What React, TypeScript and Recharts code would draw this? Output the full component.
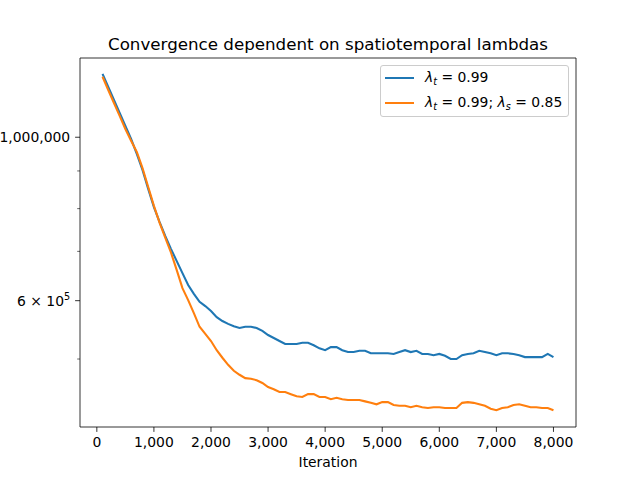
import { LineChart, Line, XAxis, YAxis, ReferenceLine } from 'recharts';

// values (loss per iteration, log scale)
const iterations = [
  100, 200, 300, 400, 500, 600, 700, 800, 900, 1000,
  1100, 1200, 1300, 1400, 1500, 1600, 1700, 1800, 1900, 2000,
  2100, 2200, 2300, 2400, 2500, 2600, 2700, 2800, 2900, 3000,
  3100, 3200, 3300, 3400, 3500, 3600, 3700, 3800, 3900, 4000,
  4100, 4200, 4300, 4400, 4500, 4600, 4700, 4800, 4900, 5000,
  5100, 5200, 5300, 5400, 5500, 5600, 5700, 5800, 5900, 6000,
  6100, 6200, 6300, 6400, 6500, 6600, 6700, 6800, 6900, 7000,
  7100, 7200, 7300, 7400, 7500, 7600, 7700, 7800, 7900, 8000,
];

// lambda_t = 0.99 (thousands)
const temporalOnly = [
  1219, 1170, 1124, 1079, 1036, 995, 949, 903, 851, 804,
  767, 734, 705, 679, 654, 630, 613, 598, 590, 581,
  570, 563, 558, 554, 551, 553, 553, 551, 546, 539,
  534, 529, 524, 524, 524, 526, 526, 522, 517, 514,
  519, 519, 514, 511, 511, 513, 513, 509, 509, 509,
  509, 508, 511, 514, 511, 513, 508, 508, 506, 508,
  505, 500, 500, 506, 508, 509, 513, 511, 509, 506,
  509, 509, 508, 506, 503, 503, 503, 503, 508, 503,
];

// lambda_t = 0.99; lambda_s = 0.85 (thousands)
const spatioTemporal = [
  1208, 1159, 1113, 1069, 1026, 989, 955, 908, 856, 807,
  765, 730, 697, 660, 624, 601, 577, 553, 541, 529,
  514, 502, 491, 482, 476, 471, 470, 468, 464, 458,
  455, 451, 451, 448, 445, 444, 448, 448, 444, 444,
  441, 443, 441, 440, 440, 440, 438, 436, 434, 437,
  437, 433, 432, 432, 430, 432, 430, 429, 430, 430,
  429, 429, 429, 436, 437, 436, 434, 432, 428, 426,
  429, 430, 433, 434, 432, 430, 430, 429, 429, 426,
];

const xTicks = [0, 1000, 2000, 3000, 4000, 5000, 6000, 7000, 8000];
const yTicks = [500000, 600000, 700000, 800000, 900000, 1000000];
const yMajorTicks = [600000, 1000000];

const X_DOMAIN = [-295, 8395];
const Y_DOMAIN = [404300, 1281000];

const data = iterations.map((it, i) => ({
  iteration: it,
  temporal: temporalOnly[i] * 1000,
  spatial: spatioTemporal[i] * 1000,
}));

const FONT = 'DejaVu Sans, sans-serif';

const XTick = ({ x, y, payload }: any) => (
  <g>
    <line x1={x} x2={x} y1={y} y2={y + 4.9} stroke="#000" strokeWidth={0.8} />
    <text x={x} y={y + 20.3} textAnchor="middle" fontSize={13.9} fontFamily={FONT} fill="#000">
      {payload.value.toLocaleString('en-US')}
    </text>
  </g>
);

const YTick = ({ x, y, payload }: any) => {
  const v = payload.value;
  const major = yMajorTicks.includes(v);
  const len = major ? 4.9 : 2.8;
  return (
    <g>
      <line x1={x - len} x2={x} y1={y} y2={y} stroke="#000" strokeWidth={major ? 0.8 : 0.6} />
      {v === 1000000 && (
        <text x={x - 9.8} y={y + 5} textAnchor="end" fontSize={13.9} fontFamily={FONT} fill="#000">
          1,000,000
        </text>
      )}
      {v === 600000 && (
        <text x={x - 9.8} y={y + 5} textAnchor="end" fontSize={13.9} fontFamily={FONT} fill="#000">
          {'6 × 10'}<tspan dy={-6} fontSize={9.7}>5</tspan>
        </text>
      )}
    </g>
  );
};

const Lam = ({ sub }: { sub: string }) => (
  <span>
    <span style={{ fontStyle: 'italic' }}>λ</span>
    <span style={{ fontStyle: 'italic', fontSize: 9.7, position: 'relative', top: 3 }}>{sub}</span>
  </span>
);

const LegendBox = () => (
  <div
    style={{
      position: 'absolute',
      left: 380,
      top: 65,
      width: 187,
      height: 50,
      border: '1px solid #cccccc',
      borderRadius: 3,
      background: 'rgba(255,255,255,0.8)',
      fontFamily: FONT,
      fontSize: 13.9,
      color: '#000',
    }}
  >
    <div style={{ position: 'absolute', left: 4, top: 11, width: 29, height: 2, background: '#1f77b4' }} />
    <div style={{ position: 'absolute', left: 44, top: 3, lineHeight: '17px', whiteSpace: 'nowrap' }}>
      <Lam sub="t" /> = 0.99
    </div>
    <div style={{ position: 'absolute', left: 4, top: 36, width: 29, height: 2, background: '#ff7f0e' }} />
    <div style={{ position: 'absolute', left: 44, top: 28, lineHeight: '17px', whiteSpace: 'nowrap' }}>
      <Lam sub="t" /> = 0.99; <Lam sub="s" /> = 0.85
    </div>
  </div>
);

export default function App() {
  return (
    <div style={{ position: 'absolute', left: 0, top: 0, width: 640, height: 480, background: '#fff' }}>
      <div
        style={{
          position: 'absolute',
          left: 0,
          width: 656,
          top: 36,
          textAlign: 'center',
          fontFamily: FONT,
          fontSize: 16.7,
          lineHeight: '16.7px',
          color: '#000',
          whiteSpace: 'nowrap',
        }}
      >
        Convergence dependent on spatiotemporal lambdas
      </div>
      <LineChart width={640} height={480} data={data} margin={{ top: 58, right: 64, left: 0, bottom: 0 }}>
        <XAxis
          dataKey="iteration"
          type="number"
          domain={X_DOMAIN}
          ticks={xTicks}
          interval={0}
          allowDataOverflow
          height={53}
          tickSize={0}
          tickMargin={0}
          tickLine={false}
          tick={<XTick />}
          axisLine={{ stroke: '#000', strokeWidth: 0.8 }}
          label={{ value: 'Iteration', position: 'insideBottom', offset: 13.3, fill: '#000', fontSize: 13.9, fontFamily: FONT }}
        />
        <YAxis
          type="number"
          scale="log"
          domain={Y_DOMAIN}
          allowDataOverflow
          ticks={yTicks}
          interval={0}
          width={80}
          tickSize={0}
          tickMargin={0}
          tickLine={false}
          tick={<YTick />}
          axisLine={{ stroke: '#000', strokeWidth: 0.8 }}
        />
        <ReferenceLine y={Y_DOMAIN[1]} stroke="#000" strokeWidth={0.8} ifOverflow="visible" />
        <ReferenceLine x={X_DOMAIN[1]} stroke="#000" strokeWidth={0.8} ifOverflow="visible" />
        <Line
          dataKey="temporal"
          stroke="#1f77b4"
          strokeWidth={2.1}
          dot={false}
          type="linear"
          isAnimationActive={false}
        />
        <Line
          dataKey="spatial"
          stroke="#ff7f0e"
          strokeWidth={2.1}
          dot={false}
          type="linear"
          isAnimationActive={false}
        />
      </LineChart>
      <LegendBox />
    </div>
  );
}
